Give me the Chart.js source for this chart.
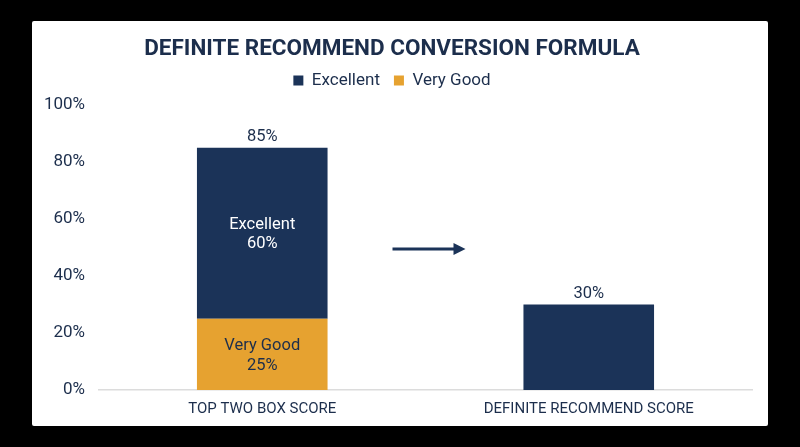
<!DOCTYPE html>
<html>
<head>
<meta charset="utf-8">
<script src="https://cdn.jsdelivr.net/npm/chart.js@4.4.1/dist/chart.umd.min.js"></script>
<style>
    html, body { margin: 0; padding: 0; background: #000; }
    #panel {
        position: absolute;
        left: 32px; top: 21px;
        width: 736px; height: 405px;
        background: #fff;
        border-radius: 2px;
    }
    canvas { display: block; }
</style>
</head>
<body>
<div id="panel"><canvas id="chart" width="736" height="405"></canvas></div>
<script>
// ===== DATA =====
const categories = ['TOP TWO BOX SCORE', 'DEFINITE RECOMMEND SCORE'];
const veryGood = [25, null];
const excellent = [60, 30];
const totals = [85, 30];
const yTicks = [0, 20, 40, 60, 80, 100];

const NAVY = '#1b3358';
const GOLD = '#e6a230';
const TEXT = '#1c2e4c';
const FONT = 'Roboto, "Noto Sans", sans-serif';

// little extra room under the legend
const legendGap = {
    id: 'legendGap',
    beforeInit(chart) {
        const fit = chart.legend.fit;
        chart.legend.fit = function () {
            fit.call(this);
            this.height += 6;
        };
    }
};

// ===== LABELS + ARROW =====
const labelPlugin = {
    id: 'labels',
    afterDatasetsDraw(chart) {
        const ctx = chart.ctx;
        const x = chart.scales.x;
        const y = chart.scales.y;
        ctx.save();
        ctx.font = '16.5px ' + FONT;
        ctx.textAlign = 'center';
        ctx.textBaseline = 'middle';

        // segment labels (only where the bar has both parts)
        chart.data.datasets.forEach((ds, di) => {
            const meta = chart.getDatasetMeta(di);
            meta.data.forEach((bar, i) => {
                if (ds.data[i] == null || veryGood[i] == null) return;
                const cy = (bar.y + bar.base) / 2;
                ctx.fillStyle = ds.textColor;
                ctx.fillText(ds.label, bar.x, cy - 8.5);
                ctx.fillText(ds.data[i] + '%', bar.x, cy + 11);
            });
        });

        // totals on top
        const top = chart.getDatasetMeta(1);
        top.data.forEach((bar, i) => {
            ctx.fillStyle = TEXT;
            ctx.fillText(totals[i] + '%', bar.x, y.getPixelForValue(totals[i]) - 11);
        });

        // arrow between the bars
        const mid = (x.getPixelForValue(0) + x.getPixelForValue(1)) / 2;
        const ay = y.getPixelForValue(49.5);
        const x0 = mid - 33, x1 = mid + 40;
        ctx.strokeStyle = NAVY;
        ctx.fillStyle = NAVY;
        ctx.lineWidth = 3;
        ctx.beginPath();
        ctx.moveTo(x0, ay);
        ctx.lineTo(x1 - 10, ay);
        ctx.stroke();
        ctx.beginPath();
        ctx.moveTo(x1, ay);
        ctx.lineTo(x1 - 12, ay - 6);
        ctx.lineTo(x1 - 12, ay + 6);
        ctx.closePath();
        ctx.fill();
        ctx.restore();
    }
};

// ===== CHART =====
new Chart(document.getElementById('chart'), {
    type: 'bar',
    data: {
        labels: categories,
        datasets: [
            { label: 'Very Good', data: veryGood, backgroundColor: GOLD, textColor: TEXT },
            { label: 'Excellent', data: excellent, backgroundColor: NAVY, textColor: '#ffffff' }
        ]
    },
    options: {
        responsive: false,
        animation: false,
        layout: { padding: { left: 0, right: 16, top: 8, bottom: 4 } },
        datasets: { bar: { categoryPercentage: 0.8, barPercentage: 0.5 } },
        plugins: {
            title: {
                display: true,
                text: 'DEFINITE RECOMMEND CONVERSION FORMULA',
                color: TEXT,
                font: { family: FONT, size: 22.5, weight: 'bold' },
                padding: { top: 7, bottom: -5 }
            },
            legend: {
                reverse: true,
                labels: {
                    color: TEXT,
                    boxWidth: 10,
                    boxHeight: 10,
                    padding: 14,
                    font: { family: FONT, size: 17 }
                }
            },
            tooltip: { enabled: false }
        },
        scales: {
            x: {
                stacked: true,
                afterFit: axis => { axis.height -= 6; },
                grid: { display: false, drawTicks: false },
                border: { color: '#dcdcdc', width: 1.5 },
                ticks: { color: TEXT, font: { family: FONT, size: 15 }, padding: 10 }
            },
            y: {
                stacked: true,
                min: 0,
                max: 100,
                afterBuildTicks: axis => { axis.ticks = yTicks.map(v => ({ value: v })); },
                afterFit: axis => { axis.width = 67; },
                grid: { display: false, drawTicks: false },
                border: { display: false },
                ticks: {
                    color: TEXT,
                    padding: 14,
                    font: { family: FONT, size: 17 },
                    callback: v => v + '%'
                }
            }
        }
    },
    plugins: [legendGap, labelPlugin]
});
</script>
</body>
</html>
